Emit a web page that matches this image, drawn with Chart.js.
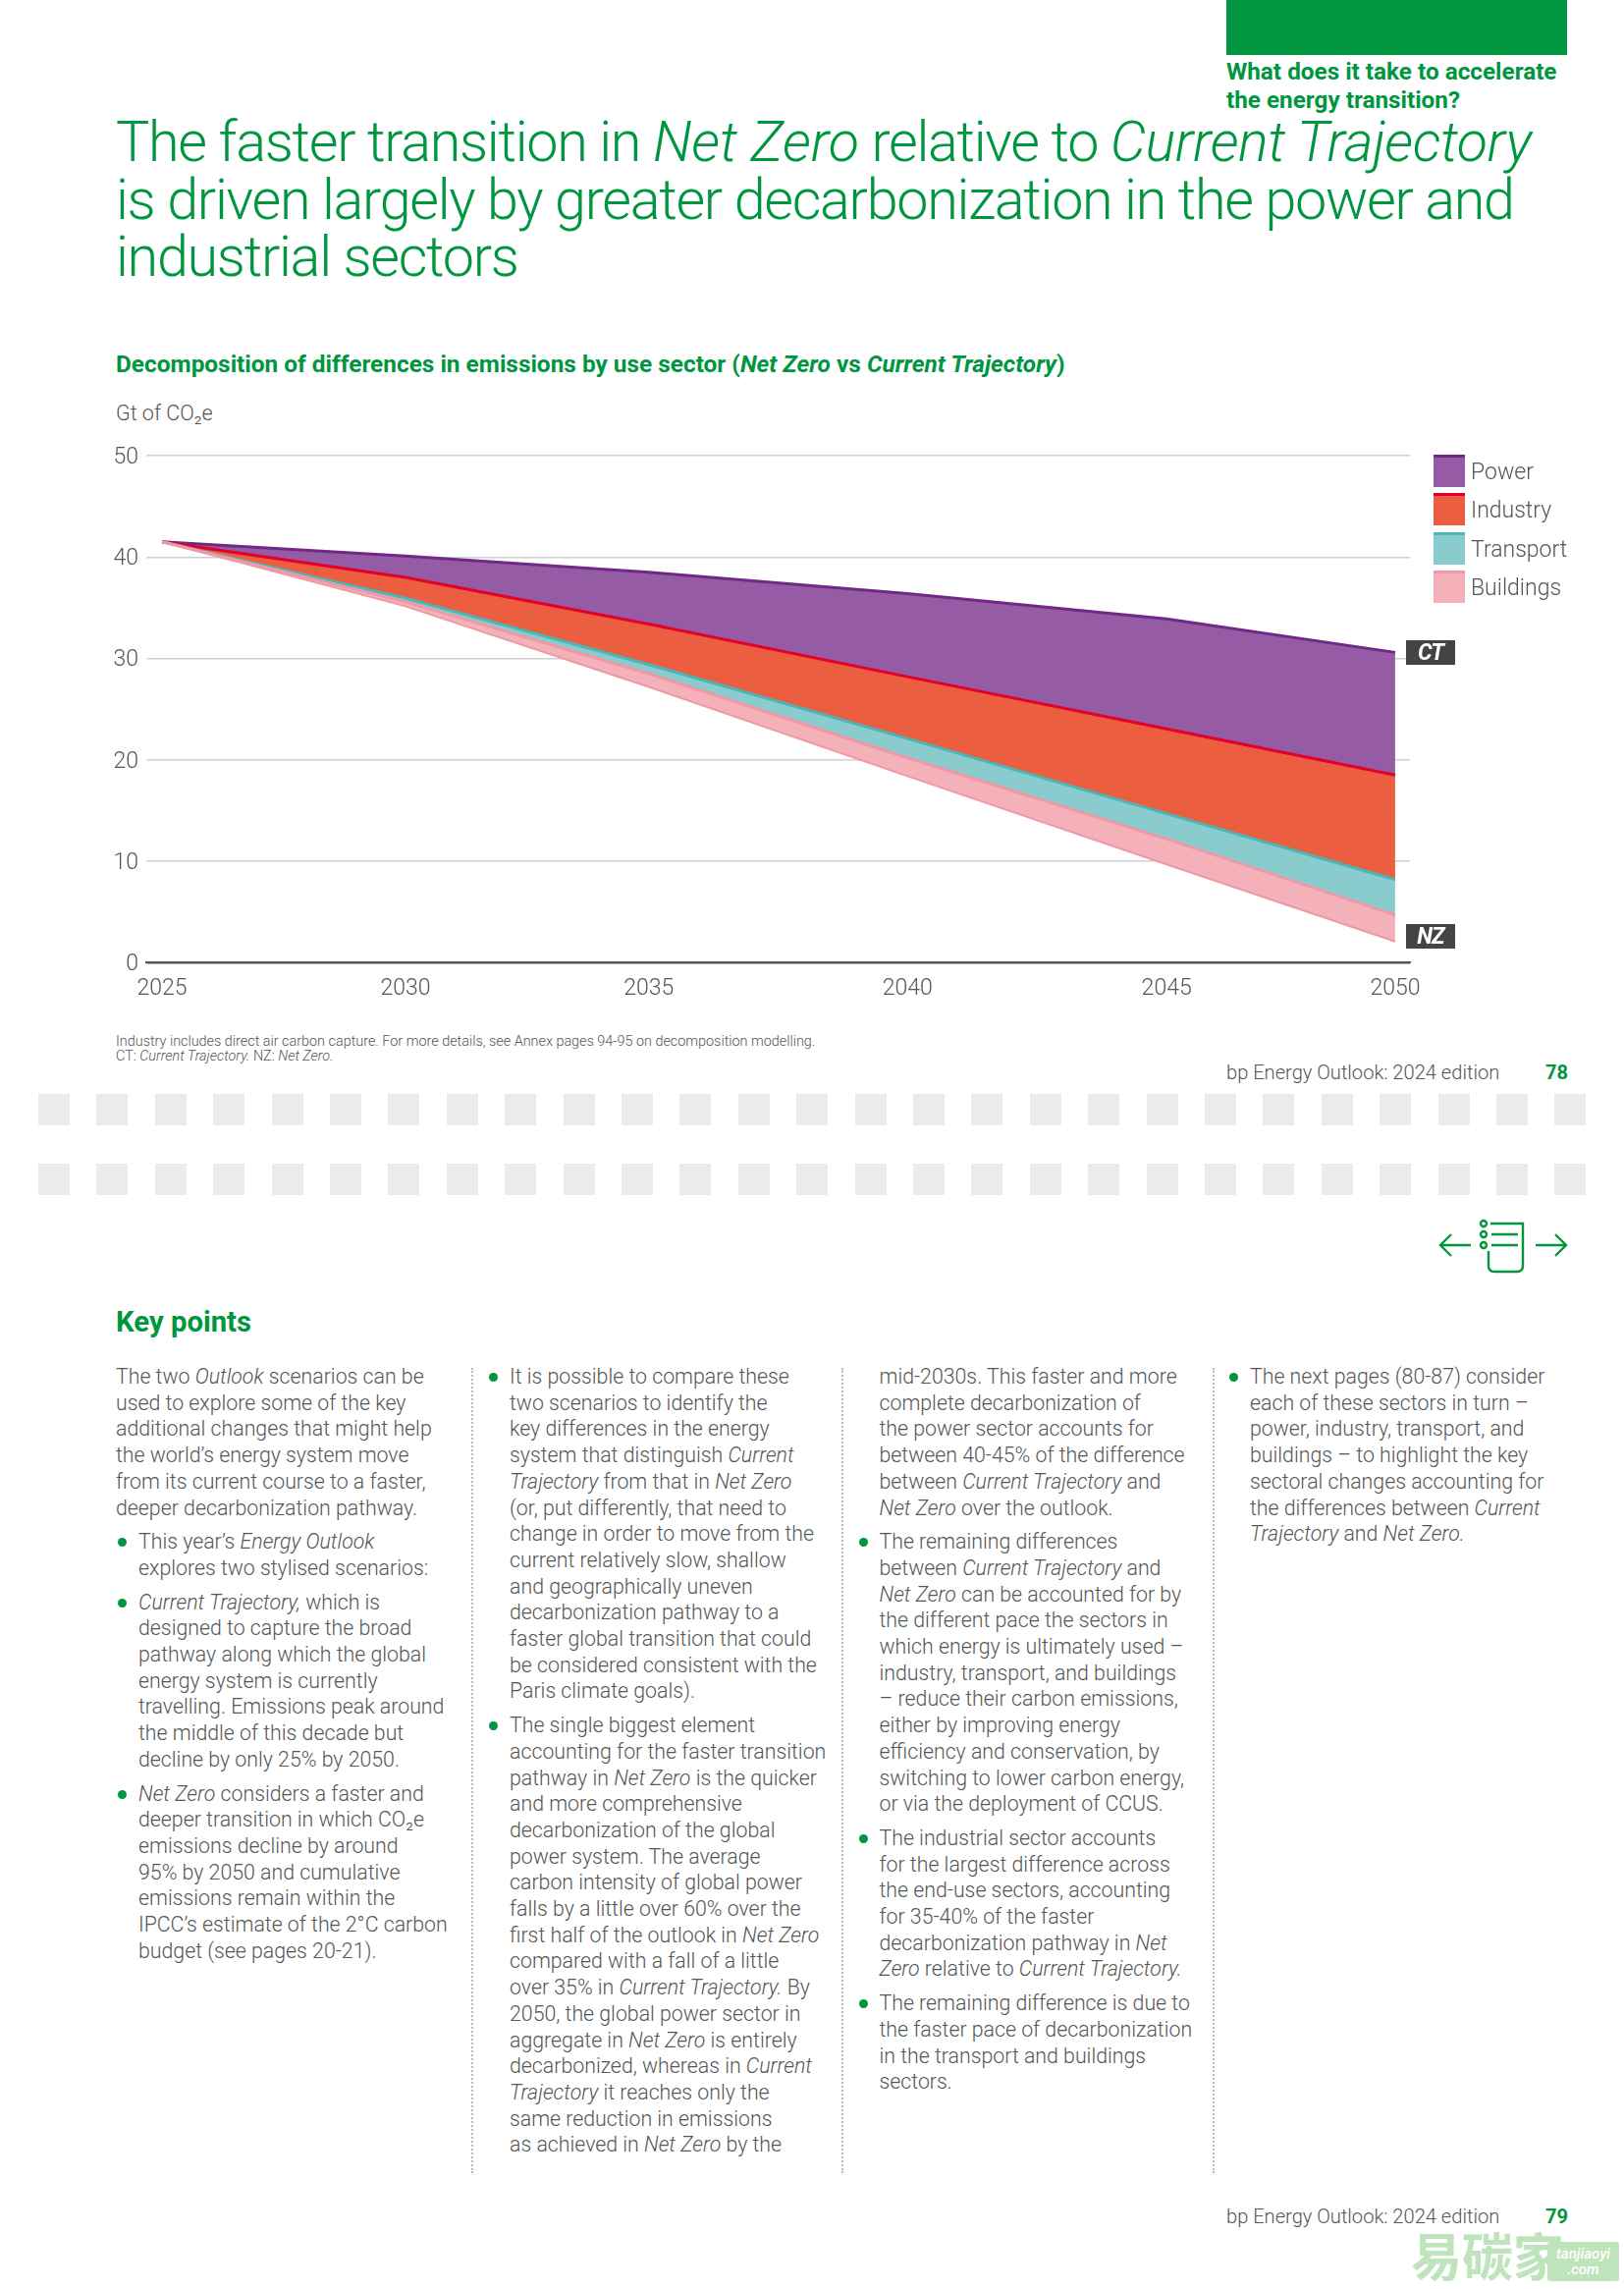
<!DOCTYPE html>
<html>
<head>
<meta charset="utf-8">
<title>bp Energy Outlook 2024</title>
<script src="https://cdn.jsdelivr.net/npm/chart.js@4/dist/chart.umd.min.js"></script>
<style>
html, body { margin: 0; padding: 0; background: #fff; }
body { position: relative; width: 1654px; height: 2331px; overflow: hidden; font-family: Roboto, sans-serif; font-weight: 300; color: #555; }
.abs { position: absolute; white-space: nowrap; }
.green { color: #009640; }
#tabBlock { left: 1249px; top: 0; width: 347px; height: 56px; background: #009640; }
#section { left: 1249px; top: 58px; font-size: 24.3px; line-height: 29px; font-weight: 700; }
#title { left: 118px; top: 116px; font-size: 57.5px; line-height: 58.7px; letter-spacing: -1.3px; }
#title i.nz { letter-spacing: -0.2px; }
#title i.ct { letter-spacing: -0.5px; }
#subtitle { left: 118px; top: 357px; font-size: 24.4px; font-weight: 700; line-height: 28px; }
#unit { left: 118px; top: 408px; font-size: 21.5px; line-height: 26px; }
#chartBox { position: absolute; left: 80px; top: 440px; width: 1400px; height: 600px; }
.swatch { position: absolute; left: 1459.5px; width: 32px; height: 30px; border-top: 3px solid; }
.legendText { position: absolute; left: 1498px; font-size: 23px; line-height: 28px; }
.tag { position: absolute; left: 1432px; width: 50px; height: 25px; background: #444; color: #fff; font-size: 23px; font-weight: 700; font-style: italic; text-align: center; line-height: 25px; letter-spacing: -1px; }
#note { left: 118px; top: 1053px; font-size: 14.4px; line-height: 15px; }
.pageName { left: 1249px; font-size: 20.1px; line-height: 24px; }
.pageNo { left: 1574px; font-size: 20.1px; line-height: 24px; font-weight: 700; color: #009640; }
.band { position: absolute; left: 39px; width: 1576px; height: 32px; background: repeating-linear-gradient(90deg, #ebebeb 0, #ebebeb 32px, #fff 32px, #fff 59.4px); }
#keyHead { left: 118px; top: 1329px; font-size: 29.3px; font-weight: 700; line-height: 34px; }
.col { position: absolute; top: 1389px; font-size: 21.3px; line-height: 26.7px; white-space: nowrap; }
.col p { margin: 0 0 8px 0; position: relative; }
.col p.b::before { content: ""; position: absolute; left: -21px; top: 9px; width: 9px; height: 9px; border-radius: 50%; background: #009640; }
.rule { position: absolute; top: 1393px; height: 820px; width: 0; border-left: 2px dotted #bbb; }
#wm { left: 1437px; top: 2266px; font-family: "Noto Sans CJK SC"; font-size: 52px; line-height: 60px; font-weight: 700; color: #bfe3ba; }
#wmBox { position: absolute; left: 1576px; top: 2283px; width: 73px; height: 40px; background: #bfe3ba; color: #fff; font-size: 15px; font-style: italic; font-weight: 500; line-height: 16px; text-align: center; padding-top: 4px; box-sizing: border-box; border-radius: 3px; }
</style>
</head>
<body>
<div class="abs" id="tabBlock"></div>
<div class="abs green" id="section">What does it take to accelerate<br>the energy transition?</div>
<div class="abs green" id="title">The faster transition in <i class="nz">Net Zero</i> relative to <i class="ct">Current Trajectory</i><br>is driven largely by greater decarbonization in the power and<br>industrial sectors</div>
<div class="abs green" id="subtitle">Decomposition of differences in emissions by use sector (<i>Net Zero</i> vs <i>Current Trajectory</i>)</div>
<div class="abs" id="unit">Gt of CO₂e</div>

<div id="chartBox"><canvas id="chart"></canvas></div>
<div id="legend"></div>
<div class="tag" style="top:652px">CT</div>
<div class="tag" style="top:941px">NZ</div>

<div class="abs" id="note">Industry includes direct air carbon capture. For more details, see Annex pages 94-95 on decomposition modelling.<br>CT: <i>Current Trajectory.</i> NZ: <i>Net Zero.</i></div>
<div class="abs pageName" style="top:1080px">bp Energy Outlook: 2024 edition</div>
<div class="abs pageNo" style="top:1080px">78</div>

<div class="band" style="top:1114px"></div>
<div class="band" style="top:1185px"></div>

<svg class="abs" style="left:1463px;top:1241px" width="134" height="56" viewBox="0 0 134 56" fill="none" stroke="#009640" stroke-width="2.4">
  <path d="M4 27H35M15 16L4 27L15 38"/>
  <path d="M101 27H132M121 16L132 27L121 38"/>
  <circle cx="48" cy="5" r="3"/><circle cx="48" cy="16" r="3"/><circle cx="48" cy="27" r="3"/>
  <path d="M55 5H88V48Q88 54 82 54H59Q53 54 53 48V33M56 16H83M56 27H83"/>
</svg>

<div class="abs green" id="keyHead">Key points</div>

<div class="col" style="left:118px">
<p>The two <i>Outlook</i> scenarios can be<br>used to explore some of the key<br>additional changes that might help<br>the world’s energy system move<br>from its current course to a faster,<br>deeper decarbonization pathway.</p>
<p class="b" style="left:23px">This year’s <i>Energy Outlook</i><br>explores two stylised scenarios:</p>
<p class="b" style="left:23px"><i>Current Trajectory,</i> which is<br>designed to capture the broad<br>pathway along which the global<br>energy system is currently<br>travelling. Emissions peak around<br>the middle of this decade but<br>decline by only 25% by 2050.</p>
<p class="b" style="left:23px"><i>Net Zero</i> considers a faster and<br>deeper transition in which CO₂e<br>emissions decline by around<br>95% by 2050 and cumulative<br>emissions remain within the<br>IPCC’s estimate of the 2°C carbon<br>budget (see pages 20-21).</p>
</div>
<div class="rule" style="left:480px"></div>
<div class="col" style="left:519px">
<p class="b">It is possible to compare these<br>two scenarios to identify the<br>key differences in the energy<br>system that distinguish <i>Current<br>Trajectory</i> from that in <i>Net Zero</i><br>(or, put differently, that need to<br>change in order to move from the<br>current relatively slow, shallow<br>and geographically uneven<br>decarbonization pathway to a<br>faster global transition that could<br>be considered consistent with the<br>Paris climate goals).</p>
<p class="b">The single biggest element<br>accounting for the faster transition<br>pathway in <i>Net Zero</i> is the quicker<br>and more comprehensive<br>decarbonization of the global<br>power system. The average<br>carbon intensity of global power<br>falls by a little over 60% over the<br>first half of the outlook in <i>Net Zero</i><br>compared with a fall of a little<br>over 35% in <i>Current Trajectory.</i> By<br>2050, the global power sector in<br>aggregate in <i>Net Zero</i> is entirely<br>decarbonized, whereas in <i>Current<br>Trajectory</i> it reaches only the<br>same reduction in emissions<br>as achieved in <i>Net Zero</i> by the</p>
</div>
<div class="rule" style="left:857px"></div>
<div class="col" style="left:895.5px">
<p>mid-2030s. This faster and more<br>complete decarbonization of<br>the power sector accounts for<br>between 40-45% of the difference<br>between <i>Current Trajectory</i> and<br><i>Net Zero</i> over the outlook.</p>
<p class="b">The remaining differences<br>between <i>Current Trajectory</i> and<br><i>Net Zero</i> can be accounted for by<br>the different pace the sectors in<br>which energy is ultimately used –<br>industry, transport, and buildings<br>– reduce their carbon emissions,<br>either by improving energy<br>efficiency and conservation, by<br>switching to lower carbon energy,<br>or via the deployment of CCUS.</p>
<p class="b">The industrial sector accounts<br>for the largest difference across<br>the end-use sectors, accounting<br>for 35-40% of the faster<br>decarbonization pathway in <i>Net<br>Zero</i> relative to <i>Current Trajectory.</i></p>
<p class="b">The remaining difference is due to<br>the faster pace of decarbonization<br>in the transport and buildings<br>sectors.</p>
</div>
<div class="rule" style="left:1234.5px"></div>
<div class="col" style="left:1273px">
<p class="b">The next pages (80-87) consider<br>each of these sectors in turn –<br>power, industry, transport, and<br>buildings – to highlight the key<br>sectoral changes accounting for<br>the differences between <i>Current<br>Trajectory</i> and <i>Net Zero.</i></p>
</div>

<div class="abs pageName" style="top:2245px">bp Energy Outlook: 2024 edition</div>
<div class="abs pageNo" style="top:2245px">79</div>
<div class="abs" id="wm">易碳家</div>
<div id="wmBox">tanjiaoyi<br>.com</div>

<script>
// Axis labels and where each one sits along the (slightly uneven) x axis of the original
var yearLabels = ['2025', '2030', '2035', '2040', '2045', '2050'];
var yearPositions = [2025, 2029.94, 2034.88, 2040.13, 2045.39, 2050.03];
var yTicks = [0, 10, 20, 30, 40, 50];

// Gt of CO2e. Net Zero is the bottom edge, sectors stack up to Current Trajectory
var netZero = [41.5, 35.15, 27.2, 18.4, 9.7, 2.1];
var buildings = [0, 0.45, 1.3, 1.8, 2.5, 2.6];
var transport = [0, 0.35, 0.9, 1.9, 2.5, 3.5];
var industry = [0, 2.05, 4.0, 6.1, 8.35, 10.3];
var power = [0, 2.1, 5.1, 8.2, 10.85, 12.1];

var sectorNames = ['Power', 'Industry', 'Transport', 'Buildings'];
var sectorFills = ['#955ba5', '#eb5e40', '#8accce', '#f5b1b9'];
var sectorLines = ['#702a85', '#e4002b', '#4cb5b5', '#ee99a5'];

function points(values) {
    return values.map(function (v, i) {
        return { x: yearPositions[i], y: v };
    });
}

function sectorDataset(index, values) {
    return {
        label: sectorNames[index],
        data: points(values),
        backgroundColor: sectorFills[index],
        borderColor: sectorLines[index],
        borderWidth: 3,
        pointRadius: 0,
        tension: 0,
        fill: '-1'
    };
}

new Chart(document.getElementById('chart'), {
    type: 'line',
    data: {
        datasets: [
            { label: 'Net Zero', data: points(netZero), borderColor: sectorLines[3], borderWidth: 2, pointRadius: 0, fill: false },
            sectorDataset(3, buildings),
            sectorDataset(2, transport),
            sectorDataset(1, industry),
            sectorDataset(0, power)
        ]
    },
    options: {
        responsive: true,
        maintainAspectRatio: false,
        animation: false,
        layout: { padding: { top: 24, right: 44 } },
        plugins: { legend: { display: false }, tooltip: { enabled: false } },
        scales: {
            x: {
                type: 'linear',
                min: 2024.68,
                max: 2050.33,
                grid: { display: false },
                border: { display: true, color: '#555', width: 2 },
                afterBuildTicks: function (scale) {
                    scale.ticks = yearPositions.map(function (v) { return { value: v }; });
                },
                afterFit: function (scale) { scale.height = 59.6; },
                ticks: {
                    autoSkip: false,
                    maxRotation: 0,
                    padding: 5,
                    color: '#555',
                    font: { family: 'Roboto', size: 23, weight: 300 },
                    callback: function (value, i) { return yearLabels[i]; }
                }
            },
            y: {
                stacked: true,
                min: 0,
                max: 50,
                afterBuildTicks: function (scale) {
                    scale.ticks = yTicks.map(function (v) { return { value: v }; });
                },
                afterFit: function (scale) { scale.width = 69; },
                grid: {
                    color: function (ctx) { return ctx.tick.value === 0 ? '#555' : '#d0d0d0'; },
                    lineWidth: 1.5,
                    drawTicks: false
                },
                border: { display: false },
                ticks: {
                    padding: 8,
                    labelOffset: 2,
                    color: '#555',
                    font: { family: 'Roboto', size: 23, weight: 300 }
                }
            }
        }
    }
});

// Legend swatches have a darker cap on top, so they are built by hand
var legend = document.getElementById('legend');
sectorNames.forEach(function (name, i) {
    var top = 463 + i * 39.3;
    var swatch = document.createElement('div');
    swatch.className = 'swatch';
    swatch.style.top = top + 'px';
    swatch.style.background = sectorFills[i];
    swatch.style.borderColor = sectorLines[i];
    legend.appendChild(swatch);
    var text = document.createElement('div');
    text.className = 'legendText';
    text.style.top = (top + 4) + 'px';
    text.textContent = name;
    legend.appendChild(text);
});
</script>
</body>
</html>
